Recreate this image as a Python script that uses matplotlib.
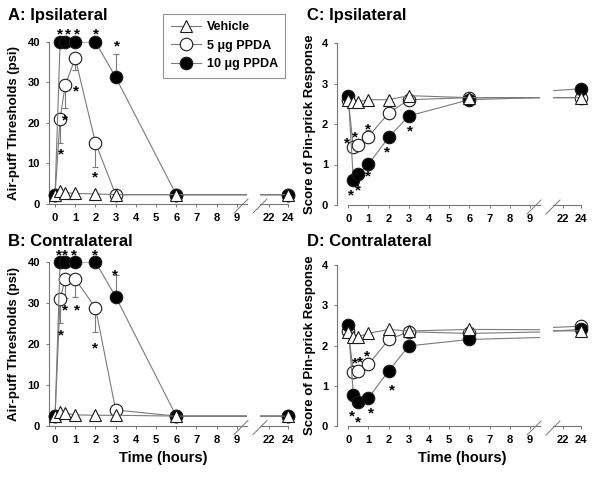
import numpy as np
import matplotlib
matplotlib.use('Agg')
import matplotlib.pyplot as plt
from matplotlib.lines import Line2D

plt.rcParams['font.family'] = ['Liberation Sans', 'DejaVu Sans']
plt.rcParams['font.weight'] = 'bold'

# %% Data
times = [0, 0.25, 0.5, 1, 2, 3, 6, 24]
labels = ['Vehicle', '5 \u03bcg PPDA', '10 \u03bcg PPDA']

# A: air-puff, ipsilateral
a_veh = [2.3, 3.1, 2.8, 2.6, 2.5, 2.3, 2.3, 2.3]
a_p5 = [2.3, 21.1, 29.3, 36.0, 15.1, 2.3, 2.3, 2.3]
a_p10 = [2.3, 40, 40, 40, 40, 31.3, 2.3, 2.3]
a_p5_lo = [0, 6.0, 5.5, 2.8, 6.0, 0, 0, 0]
a_p10_hi = [0, 0, 0, 0, 0, 5.7, 0, 0]
a_stars = [(0.25, 42.8), (0.62, 42.8), (1.1, 42.8), (2.0, 42.8), (3.05, 39.8),
           (0.3, 13.1), (0.5, 21.5), (1.05, 28.8), (1.98, 7.4)]

# B: air-puff, contralateral
b_veh = [2.3, 3.3, 3.0, 2.6, 2.5, 2.5, 2.3, 2.3]
b_p5 = [2.3, 31.0, 35.8, 35.8, 28.8, 3.8, 2.3, 2.3]
b_p10 = [2.3, 40, 40, 40, 40, 31.5, 2.3, 2.3]
b_p5_lo = [0, 6.0, 4.5, 4.4, 6.0, 0, 0, 0]
b_p10_hi = [0, 0, 0, 0, 0, 5.4, 0, 0]
b_stars = [(0.2, 42.6), (0.5, 42.6), (0.95, 42.6), (1.98, 42.6), (2.97, 37.7),
           (0.3, 22.8), (0.5, 29.1), (1.07, 29.1), (1.98, 19.8)]

# C: pin-prick, ipsilateral
c_veh = [2.6, 2.55, 2.55, 2.6, 2.6, 2.7, 2.65, 2.65]
c_p5 = [2.6, 1.42, 1.47, 1.69, 2.27, 2.6, 2.65, 2.65]
c_p10 = [2.7, 0.62, 0.77, 1.01, 1.67, 2.2, 2.6, 2.87]
c_p5_lo = [0, 0, 0, 0, 0, 0, 0, 0]
c_p5_hi = [0, 0, 0, 0.17, 0, 0, 0, 0]
c_stars = [(-0.08, 1.6), (0.33, 1.75), (0.95, 1.95),
           (0.15, 0.33), (0.5, 0.45), (0.95, 0.8), (1.94, 1.38), (3.07, 1.91)]

# D: pin-prick, contralateral
d_veh = [2.34, 2.2, 2.22, 2.3, 2.4, 2.36, 2.4, 2.36]
d_p5 = [2.35, 1.33, 1.37, 1.53, 2.15, 2.34, 2.3, 2.48]
d_p10 = [2.5, 0.77, 0.6, 0.7, 1.37, 1.99, 2.15, 2.4]
d_stars = [(0.33, 1.64), (0.6, 1.68), (0.94, 1.82),
           (0.2, 0.33), (0.5, 0.19), (1.1, 0.4), (2.17, 0.98)]

# %% Layout helpers
W, H = 600, 479
LINE = '#7a7a7a'
EDGE = '#1a1a1a'

fig = plt.figure(figsize=(W / 100, H / 100), dpi=100)


def fig_axes(x0, x1, y_top, y_bot):
    return fig.add_axes([x0 / W, 1 - y_bot / H, (x1 - x0) / W, (y_bot - y_top) / H])


def px(x, y):
    return x / W, 1 - y / H


styles = [
    dict(marker='^', ms=9, mfc='white', mec=EDGE, mew=0.8),
    dict(marker='o', ms=9, mfc='white', mec=EDGE, mew=0.8),
    dict(marker='o', ms=9, mfc='black', mec=EDGE, mew=0.8),
]


def style_axes(ax, left):
    for s in ['top', 'right']:
        ax.spines[s].set_visible(False)
    for s in ['left', 'bottom']:
        ax.spines[s].set_color('#777777')
        ax.spines[s].set_linewidth(0.8)
    ax.tick_params(colors='#777777', labelcolor='black', labelsize=8,
                   length=2.5, width=0.7, pad=4)
    if not left:
        ax.spines['left'].set_visible(False)
        ax.set_yticks([])


def draw_panel(axL, axR, veh, p5, p10, errs, stars, ymax, yticks, xl, xr, spine_start):
    t = np.array(times)
    # order: open circles, filled circles, triangles on top
    order = [(1, p5), (2, p10), (0, veh)]
    for ax, xlim in [(axL, xl), (axR, xr)]:
        for k, (idx, y) in enumerate(order):
            y = np.array(y)
            z = 3 + 2 * k
            ax.plot(t, y, color=LINE, lw=0.8, zorder=z)
            m = (t >= xlim[0]) & (t <= xlim[1])
            ax.plot(t[m], y[m], ls='none', clip_on=False, zorder=z + 1, **styles[idx])
        ax.set_xlim(*xlim)
        ax.set_ylim(0, ymax)
    for (y, lo, hi, z) in errs:
        y = np.array(y)
        lo = np.array(lo)
        hi = np.array(hi)
        m = (lo > 0) | (hi > 0)
        axL.errorbar(t[m], y[m], yerr=[lo[m], hi[m]], fmt='none', ecolor=LINE,
                     elinewidth=0.8, capsize=2.5, capthick=0.8, zorder=z, clip_on=False)
    for (sx, sy) in stars:
        axL.annotate('*', (sx, sy), xytext=(0, -5.5), textcoords='offset points',
                     ha='center', va='baseline', fontsize=11, fontweight='bold',
                     annotation_clip=False, zorder=20)
    style_axes(axL, True)
    style_axes(axR, False)
    axL.set_yticks(yticks)
    axL.set_xticks(range(10))
    axR.set_xticks([22, 24])
    axL.spines['bottom'].set_bounds(spine_start, xl[1])
    axR.spines['bottom'].set_bounds(xr[0], 24)


def break_marks(x_edge, y0):
    for (xa, ya, xb, yb) in [(-13, 9, 1, -5), (6, 9, 20, -5)]:
        fig.add_artist(Line2D([px(x_edge + xa, y0 + ya)[0], px(x_edge + xb, y0 + yb)[0]],
                              [px(x_edge + xa, y0 + ya)[1], px(x_edge + xb, y0 + yb)[1]],
                              color='#777777', lw=0.7))


# %% Panels
xl_ab, xr_ab = (-0.3, 9.5), (21.05, 24.2)
xl_cd, xr_cd = (-0.56, 9.5), (20.9, 24.2)

axA = fig_axes(49, 247, 42, 204)
axAr = fig_axes(260, 290, 42, 204)
axB = fig_axes(49, 247, 262, 425.5)
axBr = fig_axes(260, 290, 262, 425.5)
axC = fig_axes(337, 540, 43, 205)
axCr = fig_axes(553, 583, 43, 205)
axD = fig_axes(337, 540, 265, 426)
axDr = fig_axes(553, 583, 265, 426)

draw_panel(axA, axAr, a_veh, a_p5, a_p10,
           [(a_p5, a_p5_lo, [0] * 8, 3), (a_p10, [0] * 8, a_p10_hi, 5)],
           a_stars, 40, [0, 10, 20, 30, 40], xl_ab, xr_ab, -0.25)
draw_panel(axB, axBr, b_veh, b_p5, b_p10,
           [(b_p5, b_p5_lo, [0] * 8, 3), (b_p10, [0] * 8, b_p10_hi, 5)],
           b_stars, 40, [0, 10, 20, 30, 40], xl_ab, xr_ab, -0.25)
draw_panel(axC, axCr, c_veh, c_p5, c_p10,
           [(c_p5, c_p5_lo, c_p5_hi, 3)],
           c_stars, 4, [0, 1, 2, 3, 4], xl_cd, xr_cd, 0)
draw_panel(axD, axDr, d_veh, d_p5, d_p10, [],
           d_stars, 4, [0, 1, 2, 3, 4], xl_cd, xr_cd, 0)

break_marks(247, 204)
break_marks(247, 425.5)
break_marks(540, 205)
break_marks(540, 426)

# titles and axis labels
for txt, x, y in [('A: Ipsilateral', 8, 20), ('B: Contralateral', 8, 246),
                  ('C: Ipsilateral', 307, 20), ('D: Contralateral', 307, 246)]:
    fig.text(*px(x, y), txt, fontsize=12, fontweight='bold', va='baseline')

fig.text(*px(14, 123), 'Air-puff Thresholds (psi)', rotation=90, fontsize=9.5,
         ha='center', va='center')
fig.text(*px(14, 344), 'Air-puff Thresholds (psi)', rotation=90, fontsize=9.5,
         ha='center', va='center')
fig.text(*px(310, 124), 'Score of Pin-prick Response', rotation=90, fontsize=9.5,
         ha='center', va='center')
fig.text(*px(310, 345), 'Score of Pin-prick Response', rotation=90, fontsize=9.5,
         ha='center', va='center')
fig.text(*px(163, 458), 'Time (hours)', fontsize=10.5, ha='center', va='center')
fig.text(*px(462, 458), 'Time (hours)', fontsize=10.5, ha='center', va='center')

# legend
handles = [Line2D([], [], color=LINE, lw=0.8, **styles[i]) for i in range(3)]
leg = fig.legend(handles, labels, loc='upper left', bbox_to_anchor=px(163, 14),
                 fontsize=9, frameon=True, fancybox=False, handlelength=2.4,
                 handletextpad=0.5, labelspacing=0.5, borderpad=0.6,
                 borderaxespad=0)
leg.get_frame().set_edgecolor('#777777')
leg.get_frame().set_linewidth(0.8)

fig.savefig('out.png', dpi=100)
